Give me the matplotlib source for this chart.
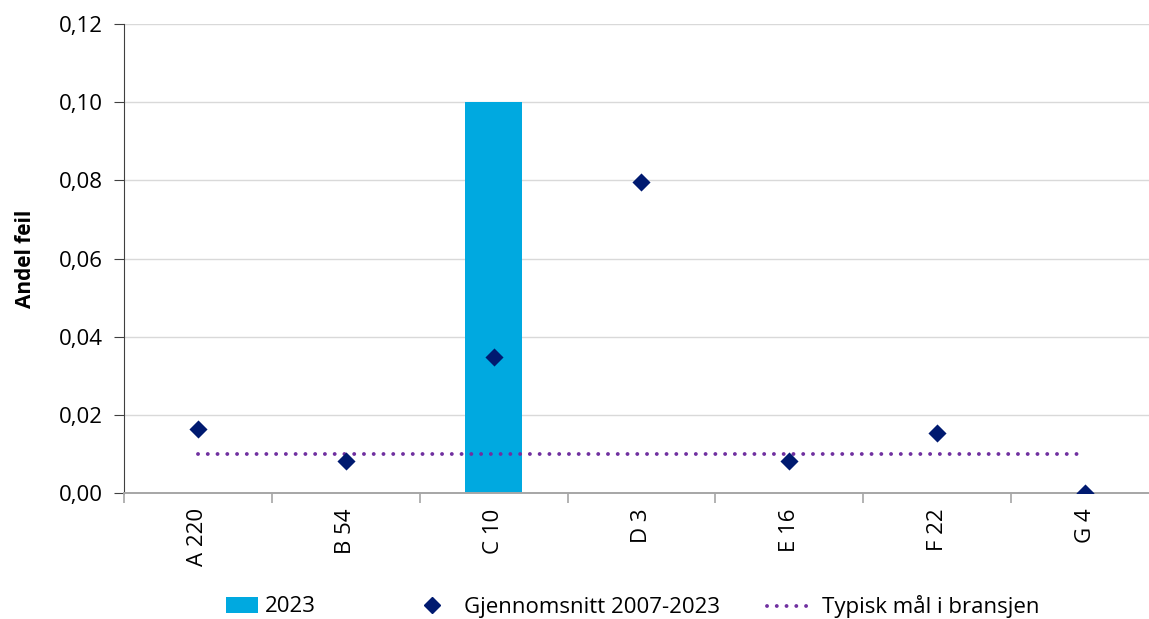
import matplotlib
matplotlib.use("Agg")
import matplotlib.pyplot as plt
from matplotlib.lines import Line2D
from matplotlib.patches import Patch
from matplotlib.ticker import FixedLocator, FuncFormatter

plt.rcParams['font.family'] = ['Open Sans', 'DejaVu Sans']

categories = ["A 220", "B 54", "C 10", "D 3", "E 16", "F 22", "G 4"]
share_2023 = [0.0, 0.0, 0.10, 0.0, 0.0, 0.0, 0.0]
average_2007_2023 = [0.0164, 0.0082, 0.0348, 0.0796, 0.0082, 0.0154, 0.0]
industry_target = [0.01] * len(categories)
y_ticks = [0.0, 0.02, 0.04, 0.06, 0.08, 0.10, 0.12]

bar_color = "#00A9E0"
marker_color = "#001A70"
target_color = "#7030A0"
dot_style = (0, (0.01, 2.5))

fig = plt.figure(figsize=(11.49, 6.19), dpi=100)
ax = fig.add_axes([124 / 1149, 1 - 493 / 619, 1035 / 1149, 469 / 619])

x = list(range(len(categories)))
ax.bar(x, share_2023, width=0.39, color=bar_color, zorder=2)
ax.plot(x, industry_target, linestyle=dot_style, linewidth=2.8,
        color=target_color, dash_capstyle="round", zorder=3)
ax.scatter(x, average_2007_2023, marker="D", s=85, color=marker_color,
           zorder=4, linewidths=0)

ax.set_xlim(-0.5, len(categories) - 0.5)
ax.set_ylim(0, 0.12)
ax.set_yticks(y_ticks)
ax.yaxis.set_major_formatter(FuncFormatter(lambda v, p: f"{v:.2f}".replace(".", ",")))
ax.grid(axis="y", color="#D9D9D9", linewidth=1, zorder=0)
ax.set_axisbelow(True)

ax.set_xticks(x)
ax.set_xticklabels(categories, rotation=90)
ax.xaxis.set_minor_locator(FixedLocator([i - 0.5 for i in range(len(categories) + 1)]))
ax.tick_params(axis="x", which="major", length=0, pad=11, labelsize=16)
ax.tick_params(axis="x", which="minor", length=7, color="#A6A6A6", width=1.2)
ax.tick_params(axis="y", length=7, color="#404040", labelsize=16, pad=8)

for side in ("top", "right"):
    ax.spines[side].set_visible(False)
ax.spines["left"].set_color("#404040")
ax.spines["bottom"].set_color("#A6A6A6")
ax.spines["bottom"].set_linewidth(1.4)

ax.set_ylabel("Andel feil", fontsize=15, fontweight="bold", labelpad=17)

# Legend entries placed individually along the bottom
legend_y = 1 - 607 / 619
entries = [
    (Patch(facecolor=bar_color, edgecolor="none"), "2023", 226, 1.44, 0.32),
    (Line2D([], [], marker="D", linestyle="none", color=marker_color, markersize=8),
     "Gjennomsnitt 2007-2023", 421, 1.0, 0.95),
    (Line2D([], [], linestyle=dot_style, linewidth=2.8, color=target_color,
            dash_capstyle="round"),
     "Typisk mål i bransjen", 767, 2.03, 0.45),
]
for handle, label, x_px, hlen, hpad in entries:
    leg = fig.legend([handle], [label], loc="center left",
                     bbox_to_anchor=(x_px / 1149, legend_y), frameon=False,
                     fontsize=16, borderpad=0, borderaxespad=0,
                     handlelength=hlen, handletextpad=hpad)

fig.savefig("out.png", dpi=100)
